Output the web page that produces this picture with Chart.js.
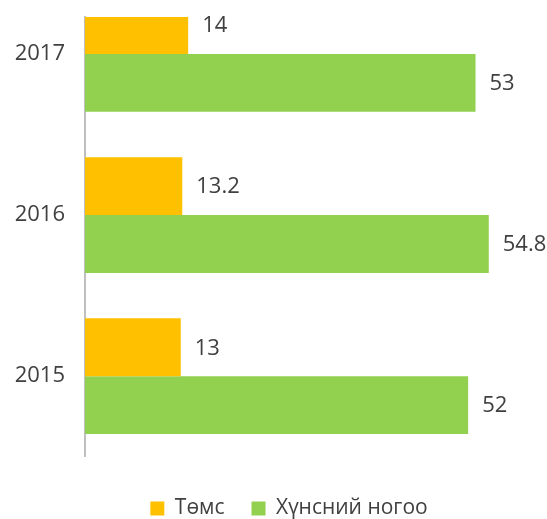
<!DOCTYPE html>
<html>
<head>
<meta charset="utf-8">
<script src="https://cdn.jsdelivr.net/npm/chart.js@4/dist/chart.umd.min.js"></script>
<style>
  html, body { margin: 0; padding: 0; background: #fff; }
  #wrap { width: 547px; height: 519px; position: relative; }
</style>
</head>
<body>
<div id="wrap"><canvas id="chart"></canvas></div>
<script>
// Horizontal grouped bars: potatoes vs vegetables by year

var years = ['2017', '2016', '2015'];
var potatoes = [14, 13.2, 13];
var vegetables = [53, 54.8, 52];
var seriesNames = ['Төмс', 'Хүнсний ногоо'];

var FONT = "'Open Sans', 'Liberation Sans', sans-serif";
var TEXT = '#404040';

function toPoints(arr) {
  return arr.map(function (v, i) { return { x: v, y: i }; });
}

// value labels right of each bar end
var valueLabels = {
  id: 'valueLabels',
  afterDatasetsDraw: function (chart) {
    var ctx = chart.ctx;
    ctx.save();
    ctx.font = '22px ' + FONT;
    ctx.fillStyle = TEXT;
    ctx.textAlign = 'left';
    ctx.textBaseline = 'middle';
    chart.data.datasets.forEach(function (ds, di) {
      chart.getDatasetMeta(di).data.forEach(function (bar, i) {
        ctx.fillText(String(ds.data[i].x), bar.x + 14, bar.y + 1);
      });
    });
    ctx.restore();
  }
};

new Chart(document.getElementById('chart'), {
  type: 'bar',
  data: {
    datasets: [{
      label: seriesNames[0],
      data: toPoints(potatoes),
      backgroundColor: '#FFC000',
      clip: 0
    }, {
      label: seriesNames[1],
      data: toPoints(vegetables),
      backgroundColor: '#92D050',
      clip: 0
    }]
  },
  options: {
    indexAxis: 'y',
    responsive: true,
    maintainAspectRatio: false,
    animation: false,
    categoryPercentage: 0.718,
    barPercentage: 1,
    layout: { padding: { top: 17, left: 8, right: -23, bottom: -10 } },
    scales: {
      x: {
        type: 'linear',
        min: 0,
        max: 62.7,
        grid: { display: false },
        border: { display: false },
        ticks: { display: false },
        afterFit: function (s) { s.height = 15; }
      },
      y: {
        type: 'linear',
        reverse: true,
        offset: false,
        min: -0.229,
        max: 2.495,
        grid: { display: false, drawTicks: true, tickLength: 20 },
        border: { display: true, color: '#BFBFBF', width: 2 },
        afterBuildTicks: function (s) {
          s.ticks = years.map(function (y, i) { return { value: i }; });
        },
        afterFit: function (s) { s.width = 77; },
        ticks: {
          padding: 0,
          color: TEXT,
          font: { family: FONT, size: 22 },
          callback: function (v) { return years[v]; }
        }
      }
    },
    plugins: {
      legend: {
        position: 'bottom',
        labels: {
          color: TEXT,
          font: { family: FONT, size: 21 },
          boxWidth: 14,
          boxHeight: 14,
          padding: 27
        }
      },
      tooltip: { enabled: false }
    }
  },
  plugins: [valueLabels]
});
</script>
</body>
</html>
